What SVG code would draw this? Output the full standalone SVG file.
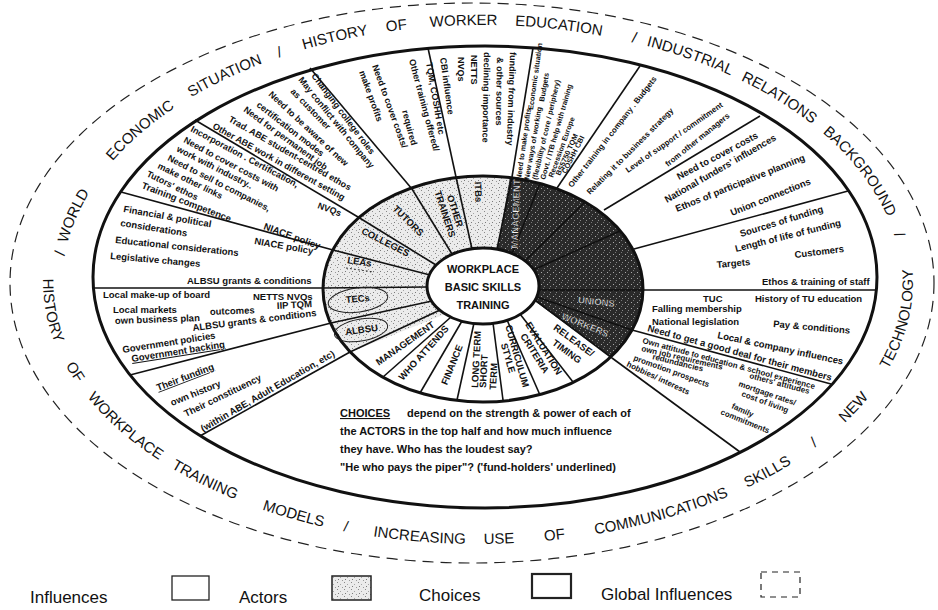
<svg xmlns="http://www.w3.org/2000/svg" width="938" height="610" viewBox="0 0 938 610">
<defs>
<style>
.g{font-family:"Liberation Sans",Arial,sans-serif;font-size:15px;fill:#111}
.t{font-family:"Liberation Sans",Arial,sans-serif;font-size:9.5px;font-weight:bold;fill:#111}
.t9{font-family:"Liberation Sans",Arial,sans-serif;font-size:9px;font-weight:bold;fill:#111}
.t8{font-family:"Liberation Sans",Arial,sans-serif;font-size:8px;font-weight:bold;fill:#111}
.t7{font-family:"Liberation Sans",Arial,sans-serif;font-size:7.3px;font-weight:bold;fill:#111}
.a{font-family:"Liberation Sans",Arial,sans-serif;font-size:9.5px;font-weight:bold;fill:#111;text-anchor:middle}
.aw{font-family:"Liberation Sans",Arial,sans-serif;font-size:9.5px;font-weight:bold;fill:#f4f4f4;stroke:#000;stroke-width:0.4;text-anchor:middle}
.ch{font-family:"Liberation Sans",Arial,sans-serif;font-size:11px;font-weight:bold;fill:#111}
.ct{font-family:"Liberation Sans",Arial,sans-serif;font-size:11px;font-weight:bold;fill:#111;text-anchor:middle}
.lg{font-family:"Liberation Sans",Arial,sans-serif;font-size:17px;fill:#111}
.sp{stroke:#111;stroke-width:1.6;fill:none}
.thick{stroke:#111;stroke-width:3;fill:none}
</style>
<pattern id="lt" width="7" height="7" patternUnits="userSpaceOnUse">
<rect width="7" height="7" fill="#ebebeb"/>
<rect x="1" y="1" width="1" height="1" fill="#888"/>
<rect x="4" y="3" width="1" height="1" fill="#a5a5a5"/>
<rect x="2" y="5" width="1" height="1" fill="#7a7a7a"/>
<rect x="6" y="6" width="1" height="1" fill="#999"/>
</pattern>
<pattern id="dk" width="6" height="6" patternUnits="userSpaceOnUse">
<rect width="6" height="6" fill="#2a2a2a"/>
<rect x="1" y="2" width="1" height="1" fill="#aaa"/>
<rect x="4" y="4" width="1" height="1" fill="#8a8a8a"/>
<rect x="3" y="0" width="1" height="1" fill="#777"/>
</pattern>
<clipPath id="clipL"><polygon points="313,367 468,305 492,279 517,137 520,90 240,90 240,460 300,420"/></clipPath>
<clipPath id="clipD"><polygon points="492,279 517,137 520,90 730,90 730,430 644,382 513,285"/></clipPath>
<path id="ring" d="M323,289 a160,113 0 1,0 320,0 a160,113 0 1,0 -320,0 Z M427,286 a56,38 0 1,0 112,0 a56,38 0 1,0 -112,0 Z"/>
<path id="tp" d="M62,285 A420,260 0 0 1 902,285"/>
<path id="bp" d="M49.6,236.5 A435,262 0 1 0 913,282 A435,262 0 0 0 886.8,192.4"/>
</defs>
<rect width="938" height="610" fill="#fff"/>

<g id="global-influences">
<ellipse cx="472" cy="283" rx="462" ry="280" fill="none" stroke="#222" stroke-width="1.2" stroke-dasharray="11 7"/>
<text class="g" text-anchor="middle"><textPath href="#tp" startOffset="31">/</textPath></text>
<text class="g" text-anchor="middle"><textPath href="#tp" startOffset="70">WORLD</textPath></text>
<text class="g" text-anchor="middle"><textPath href="#tp" startOffset="178">ECONOMIC</textPath></text>
<text class="g" text-anchor="middle"><textPath href="#tp" startOffset="278">SITUATION</textPath></text>
<text class="g" text-anchor="middle"><textPath href="#tp" startOffset="337">/</textPath></text>
<text class="g" text-anchor="middle"><textPath href="#tp" startOffset="394">HISTORY</textPath></text>
<text class="g" text-anchor="middle"><textPath href="#tp" startOffset="456">OF</textPath></text>
<text class="g" text-anchor="middle"><textPath href="#tp" startOffset="523">WORKER</textPath></text>
<text class="g" text-anchor="middle"><textPath href="#tp" startOffset="618">EDUCATION</textPath></text>
<text class="g" text-anchor="middle"><textPath href="#tp" startOffset="694">/</textPath></text>
<text class="g" text-anchor="middle"><textPath href="#tp" startOffset="752">INDUSTRIAL</textPath></text>
<text class="g" text-anchor="middle"><textPath href="#tp" startOffset="850">RELATIONS</textPath></text>
<text class="g" text-anchor="middle"><textPath href="#tp" startOffset="959">BACKGROUND</textPath></text>
<text class="g" text-anchor="middle"><textPath href="#tp" startOffset="1033">/</textPath></text>
<text class="g" text-anchor="middle"><textPath href="#bp" startOffset="76">HISTORY</textPath></text>
<text class="g" text-anchor="middle"><textPath href="#bp" startOffset="144">OF</textPath></text>
<text class="g" text-anchor="middle"><textPath href="#bp" startOffset="220">WORKPLACE</textPath></text>
<text class="g" text-anchor="middle"><textPath href="#bp" startOffset="318">TRAINING</textPath></text>
<text class="g" text-anchor="middle"><textPath href="#bp" startOffset="414">MODELS</textPath></text>
<text class="g" text-anchor="middle"><textPath href="#bp" startOffset="468">/</textPath></text>
<text class="g" text-anchor="middle"><textPath href="#bp" startOffset="543">INCREASING</textPath></text>
<text class="g" text-anchor="middle"><textPath href="#bp" startOffset="623">USE</textPath></text>
<text class="g" text-anchor="middle"><textPath href="#bp" startOffset="679">OF</textPath></text>
<text class="g" text-anchor="middle"><textPath href="#bp" startOffset="789">COMMUNICATIONS</textPath></text>
<text class="g" text-anchor="middle"><textPath href="#bp" startOffset="904">SKILLS</textPath></text>
<text class="g" text-anchor="middle"><textPath href="#bp" startOffset="960">/</textPath></text>
<text class="g" text-anchor="middle"><textPath href="#bp" startOffset="1014">NEW</textPath></text>
<text class="g" text-anchor="middle"><textPath href="#bp" startOffset="1118">TECHNOLOGY</textPath></text>
</g>

<g id="main-circle">
<ellipse cx="485" cy="277" rx="392" ry="231" fill="#fff" class="thick"/>
</g>

<g id="ring-shading">
<use href="#ring" fill="url(#lt)" fill-rule="evenodd" clip-path="url(#clipL)"/>
<use href="#ring" fill="url(#dk)" fill-rule="evenodd" clip-path="url(#clipD)"/>
</g>

<g id="connectors" class="sp">
<line x1="93" y1="288" x2="323" y2="288"/>
<line x1="121" y1="192" x2="333" y2="250"/>
<line x1="195" y1="120" x2="358" y2="217"/>
<line x1="310" y1="68" x2="412" y2="189"/>
<line x1="428" y1="48" x2="456" y2="177"/>
<line x1="533" y1="48" x2="512" y2="177"/>
<line x1="640" y1="66" x2="557" y2="188"/>
<line x1="760" y1="116" x2="604" y2="210"/>
<line x1="848" y1="191" x2="634" y2="249"/>
<line x1="643" y1="290" x2="876" y2="290"/>
<line x1="632" y1="330" x2="831" y2="384"/>
<line x1="612" y1="358" x2="740" y2="452"/>
<line x1="331" y1="323" x2="130" y2="375"/>
<line x1="350" y1="352" x2="200" y2="436"/>
<line x1="427" y1="287" x2="323" y2="288"/>
<line x1="430" y1="275" x2="333" y2="250"/>
<line x1="436" y1="265" x2="358" y2="217"/>
<line x1="452" y1="254" x2="412" y2="189"/>
<line x1="472" y1="249" x2="456" y2="177"/>
<line x1="497" y1="249" x2="512" y2="177"/>
<line x1="512" y1="254" x2="540" y2="183"/>
<line x1="525" y1="261" x2="585" y2="202"/>
<line x1="533" y1="270" x2="620" y2="231"/>
<line x1="539" y1="290" x2="643" y2="290"/>
<line x1="537" y1="297" x2="632" y2="330"/>
<line x1="535" y1="300" x2="612" y2="358"/>
<line x1="520" y1="314" x2="573" y2="382"/>
<line x1="507" y1="320" x2="540" y2="395"/>
<line x1="493" y1="323" x2="503" y2="400"/>
<line x1="474" y1="323" x2="457" y2="400"/>
<line x1="462" y1="321" x2="420" y2="393"/>
<line x1="451" y1="317" x2="383" y2="377"/>
<line x1="440" y1="310" x2="350" y2="352"/>
<line x1="432" y1="301" x2="331" y2="323"/>
</g>

<g id="ring-outlines">
<ellipse cx="483" cy="289" rx="160" ry="113" class="thick"/>
<ellipse cx="483" cy="286" rx="56" ry="38" fill="#fff" class="thick"/>
</g>

<g id="centre">
<text class="ct" x="483" y="273">WORKPLACE</text>
<text class="ct" x="483" y="291">BASIC SKILLS</text>
<text class="ct" x="483" y="309">TRAINING</text>
</g>

<g id="actors">
<text class="a" transform="translate(359,265) rotate(8)">LEAs</text>
<line x1="346" y1="268" x2="374" y2="272" stroke="#333" stroke-width="1" stroke-dasharray="2 2"/>
<text class="a" transform="translate(384,245) rotate(27)">COLLEGES</text>
<text class="a" transform="translate(406,223) rotate(45)">TUTORS</text>
<text class="a" transform="translate(452,212) rotate(72)">OTHER</text>
<text class="a" transform="translate(442,215) rotate(72)">TRAINERS</text>
<text class="a" transform="translate(475,192) rotate(88)">ITBs</text>
<text class="aw" transform="translate(519,214) rotate(-88)">MANAGEMENT</text>
<text class="aw" transform="translate(596,305) rotate(6)">UNIONS</text>
<text class="aw" transform="translate(584,328) rotate(22)">WORKERS</text>
<text class="a" transform="translate(358,302) rotate(-5)">TECs</text>
<ellipse cx="358" cy="300" rx="30" ry="12" transform="rotate(-8 358 300)" fill="none" stroke="#222" stroke-width="1"/>
<text class="a" transform="translate(362,333) rotate(-8)">ALBSU</text>
<ellipse cx="361" cy="330" rx="27" ry="11" transform="rotate(-10 361 330)" fill="none" stroke="#222" stroke-width="1"/>
</g>

<g id="choices-ring">
<text class="a" transform="translate(407,346) rotate(-35)">MANAGEMENT</text>
<text class="a" transform="translate(426,355) rotate(-48)">WHO ATTENDS</text>
<text class="a" transform="translate(455,366) rotate(-68)">FINANCE</text>
<text class="t" transform="translate(478,388) rotate(-87)">LONG TERM</text>
<text class="t" transform="translate(486,388) rotate(-87)">SHORT</text>
<text class="t" transform="translate(496,390) rotate(-87)">TERM</text>
<text class="a" transform="translate(514,357) rotate(74)">CURRICULUM</text>
<text class="a" transform="translate(505,359) rotate(74)">STYLE</text>
<text class="a" transform="translate(541,350) rotate(58)">EVALUATION</text>
<text class="a" transform="translate(532,355) rotate(58)">CRITERIA</text>
<text class="a" transform="translate(572,343) rotate(36)">RELEASE/</text>
<text class="a" transform="translate(565,354) rotate(36)">TIMING</text>
</g>

<g id="influences-LEAs">
<text class="t" transform="translate(123,212) rotate(10)">Financial &amp; political</text>
<text class="t" transform="translate(120,226) rotate(9)">considerations</text>
<text class="t" transform="translate(254,244) rotate(10)">NIACE policy</text>
<text class="t" transform="translate(115,243) rotate(6)">Educational considerations</text>
<text class="t" transform="translate(110,259) rotate(5)">Legislative changes</text>
<text class="t" x="187" y="284">ALBSU grants &amp; conditions</text>
</g>

<g id="influences-colleges">
<text class="t9" transform="translate(190,131) rotate(28)">Incorporation . Certification,</text>
<text class="t9" transform="translate(183,142) rotate(28)">Need to cover costs with</text>
<text class="t9" transform="translate(176,151) rotate(27)">work with industry..</text>
<text class="t9" transform="translate(167,160) rotate(27)">Need to sell to companies,</text>
<text class="t9" transform="translate(157,168) rotate(26)">make other links</text>
<text class="t9" transform="translate(146,176) rotate(26)">Tutors' ethos</text>
<text class="t" transform="translate(141,188) rotate(21)">Training competence</text>
<text class="t" transform="translate(263,229) rotate(20)">NIACE policy</text>
</g>

<g id="influences-tutors">
<text class="t9" transform="translate(311,76) rotate(53)">Changing college roles</text>
<text class="t9" transform="translate(298,80) rotate(51)">May conflict with company</text>
<text class="t9" transform="translate(290,92) rotate(46)">as customer</text>
<text class="t9" transform="translate(268,95) rotate(43)">Need to be aware of new</text>
<text class="t9" transform="translate(256,106) rotate(38)">certification modes</text>
<text class="t9" transform="translate(243,111) rotate(36)">Need for permanent job</text>
<text class="t9" transform="translate(228,121) rotate(30)">Trad. ABE student-centred ethos</text>
<text class="t9" transform="translate(212,128) rotate(29)">Other ABE work in different setting</text>
<text class="t9" transform="translate(317,208) rotate(20)">NVQs</text>
</g>

<g id="influences-other-trainers">
<text class="t9" transform="translate(372,66) rotate(70)">Need to cover costs/</text>
<text class="t9" transform="translate(359,72) rotate(70)">make profits</text>
<text class="t9" transform="translate(409,60) rotate(75)">Other training offered/</text>
<text class="t9" transform="translate(402,111) rotate(75)">required</text>
<text class="t9" transform="translate(426,63) rotate(80)">TQM, COSHH etc</text>
</g>

<g id="influences-ITBs">
<text class="t9" transform="translate(440,58) rotate(82)">CBI influence</text>
<text class="t9" transform="translate(458,57) rotate(90)">NVQs</text>
<text class="t9" transform="translate(471,55) rotate(90)">NETTS</text>
<text class="t9" transform="translate(484,52) rotate(91)">declining importance</text>
<text class="t9" transform="translate(497,57) rotate(91)">&amp; other sources</text>
<text class="t9" transform="translate(510,52) rotate(92)">funding from industry</text>
</g>

<g id="influences-management">
<text class="t7" transform="translate(521,180) rotate(-82)">Need to make profits</text>
<text class="t7" transform="translate(533,110) rotate(-82)">Economic situation</text>
<text class="t7" transform="translate(529,180) rotate(-80)">New ways of working</text>
<text class="t7" transform="translate(544,102) rotate(-80)">Budgets</text>
<text class="t7" transform="translate(537,180) rotate(-77)">(flexibility of core / periphery)</text>
<text class="t7" transform="translate(545,180) rotate(-74)">Govt. / ITB help with training</text>
<text class="t7" transform="translate(553,178) rotate(-70)">Recession   Europe</text>
<text class="t7" transform="translate(560,176) rotate(-66)">BS5750   TQM</text>
<text class="t7" transform="translate(566,174) rotate(-63)">COSHH   CBI</text>
</g>

<g id="influences-training">
<text class="t8" transform="translate(572,188) rotate(-52)">Other training in company . Budgets</text>
<text class="t8" transform="translate(590,195) rotate(-45)">Relating it to business strategy</text>
<text class="t8" transform="translate(628,173) rotate(-35)">Level of support / commitment</text>
<text class="t8" transform="translate(668,167) rotate(-39)">from other managers</text>
</g>

<g id="influences-funders">
<text class="t" transform="translate(679,180) rotate(-28)">Need to cover costs</text>
<text class="t" transform="translate(667,203) rotate(-30)">National funders' influences</text>
<text class="t" transform="translate(677,212) rotate(-22)">Ethos of participative planning</text>
<text class="t" transform="translate(732,216) rotate(-22)">Union connections</text>
</g>

<g id="influences-providers">
<text class="t" transform="translate(741,237) rotate(-17)">Sources of funding</text>
<text class="t" transform="translate(736,252) rotate(-14)">Length of life of funding</text>
<text class="t" transform="translate(717,268) rotate(-5)">Targets</text>
<text class="t" transform="translate(795,258) rotate(-7)">Customers</text>
<text class="t" x="762" y="285">Ethos &amp; training of staff</text>
</g>

<g id="influences-unions">
<text class="t" x="703" y="302">TUC</text>
<text class="t" x="755" y="302">History of TU education</text>
<text class="t" x="652" y="312">Falling membership</text>
<text class="t" x="652" y="325">National legislation</text>
<text class="t" transform="translate(773,327) rotate(5)">Pay &amp; conditions</text>
<text class="t" transform="translate(717,338) rotate(12)">Local &amp; company influences</text>
<text class="t" transform="translate(647,331) rotate(15.2)">Need to get a good deal for their members</text>
</g>

<g id="influences-workers">
<text class="t8" transform="translate(642,343) rotate(15)">Own attitude to education &amp; school experience</text>
<text class="t8" transform="translate(641,351) rotate(13)">own job requirements</text>
<text class="t8" transform="translate(652,359) rotate(14)">redundancies</text>
<text class="t8" transform="translate(633,360) rotate(20)">promotion prospects</text>
<text class="t8" transform="translate(626,366) rotate(25)">hobbies/ interests</text>
<text class="t8" transform="translate(749,378) rotate(15)">others' attitudes</text>
<text class="t8" transform="translate(738,386) rotate(19)">mortgage rates/</text>
<text class="t8" transform="translate(741,396) rotate(20)">cost of living</text>
<text class="t8" transform="translate(731,408) rotate(24)">family</text>
<text class="t8" transform="translate(720,414) rotate(22)">commitments</text>
</g>

<g id="influences-TECs">
<text class="t" x="103" y="298">Local make-up of board</text>
<text class="t" x="253" y="300">NETTS  NVQs</text>
<text class="t" x="113" y="313">Local markets</text>
<text class="t" transform="translate(277,309) rotate(-3)">IIP TQM</text>
<text class="t" transform="translate(210,315) rotate(-2)">outcomes</text>
<text class="t" transform="translate(115,324) rotate(-2)">own business plan</text>
<text class="t" transform="translate(193,331) rotate(-7)">ALBSU grants &amp; conditions</text>
<text class="t" transform="translate(123,353) rotate(-9)">Government policies</text>
<text class="t" transform="translate(132,362) rotate(-9)" text-decoration="underline">Government backing</text>
</g>

<g id="influences-ALBSU">
<text class="t" transform="translate(158,391) rotate(-21)" text-decoration="underline">Their funding</text>
<text class="t" transform="translate(172,406) rotate(-22)">own history</text>
<text class="t" transform="translate(186,417) rotate(-26)">Their constituency</text>
<text class="t" transform="translate(203,432) rotate(-30)">(within ABE, Adult Education, etc)</text>
</g>

<g id="choices-note">
<text class="ch" x="340" y="417" text-decoration="underline">CHOICES</text>
<text class="ch" x="407" y="417">depend on the strength &amp; power of each of</text>
<text class="ch" x="340" y="435">the ACTORS in the top half and how much influence</text>
<text class="ch" x="340" y="453">they have.  Who has the loudest say?</text>
<text class="ch" x="340" y="471">"He who pays the piper"? ('fund-holders' underlined)</text>
</g>

<g id="legend">
<text class="lg" x="30" y="603">Influences</text>
<rect x="172" y="576" width="37" height="24" fill="#fff" stroke="#222" stroke-width="1.3"/>
<text class="lg" x="239" y="603">Actors</text>
<rect x="332" y="576" width="39" height="24" fill="url(#lt)" stroke="#222" stroke-width="1.5"/>
<text class="lg" x="419" y="601">Choices</text>
<rect x="532" y="574" width="39" height="24" fill="#fff" stroke="#222" stroke-width="2.2"/>
<text class="lg" x="601" y="600">Global Influences</text>
<rect x="761" y="572" width="39" height="25" fill="none" stroke="#222" stroke-width="1.2" stroke-dasharray="6 5"/>
</g>
</svg>
